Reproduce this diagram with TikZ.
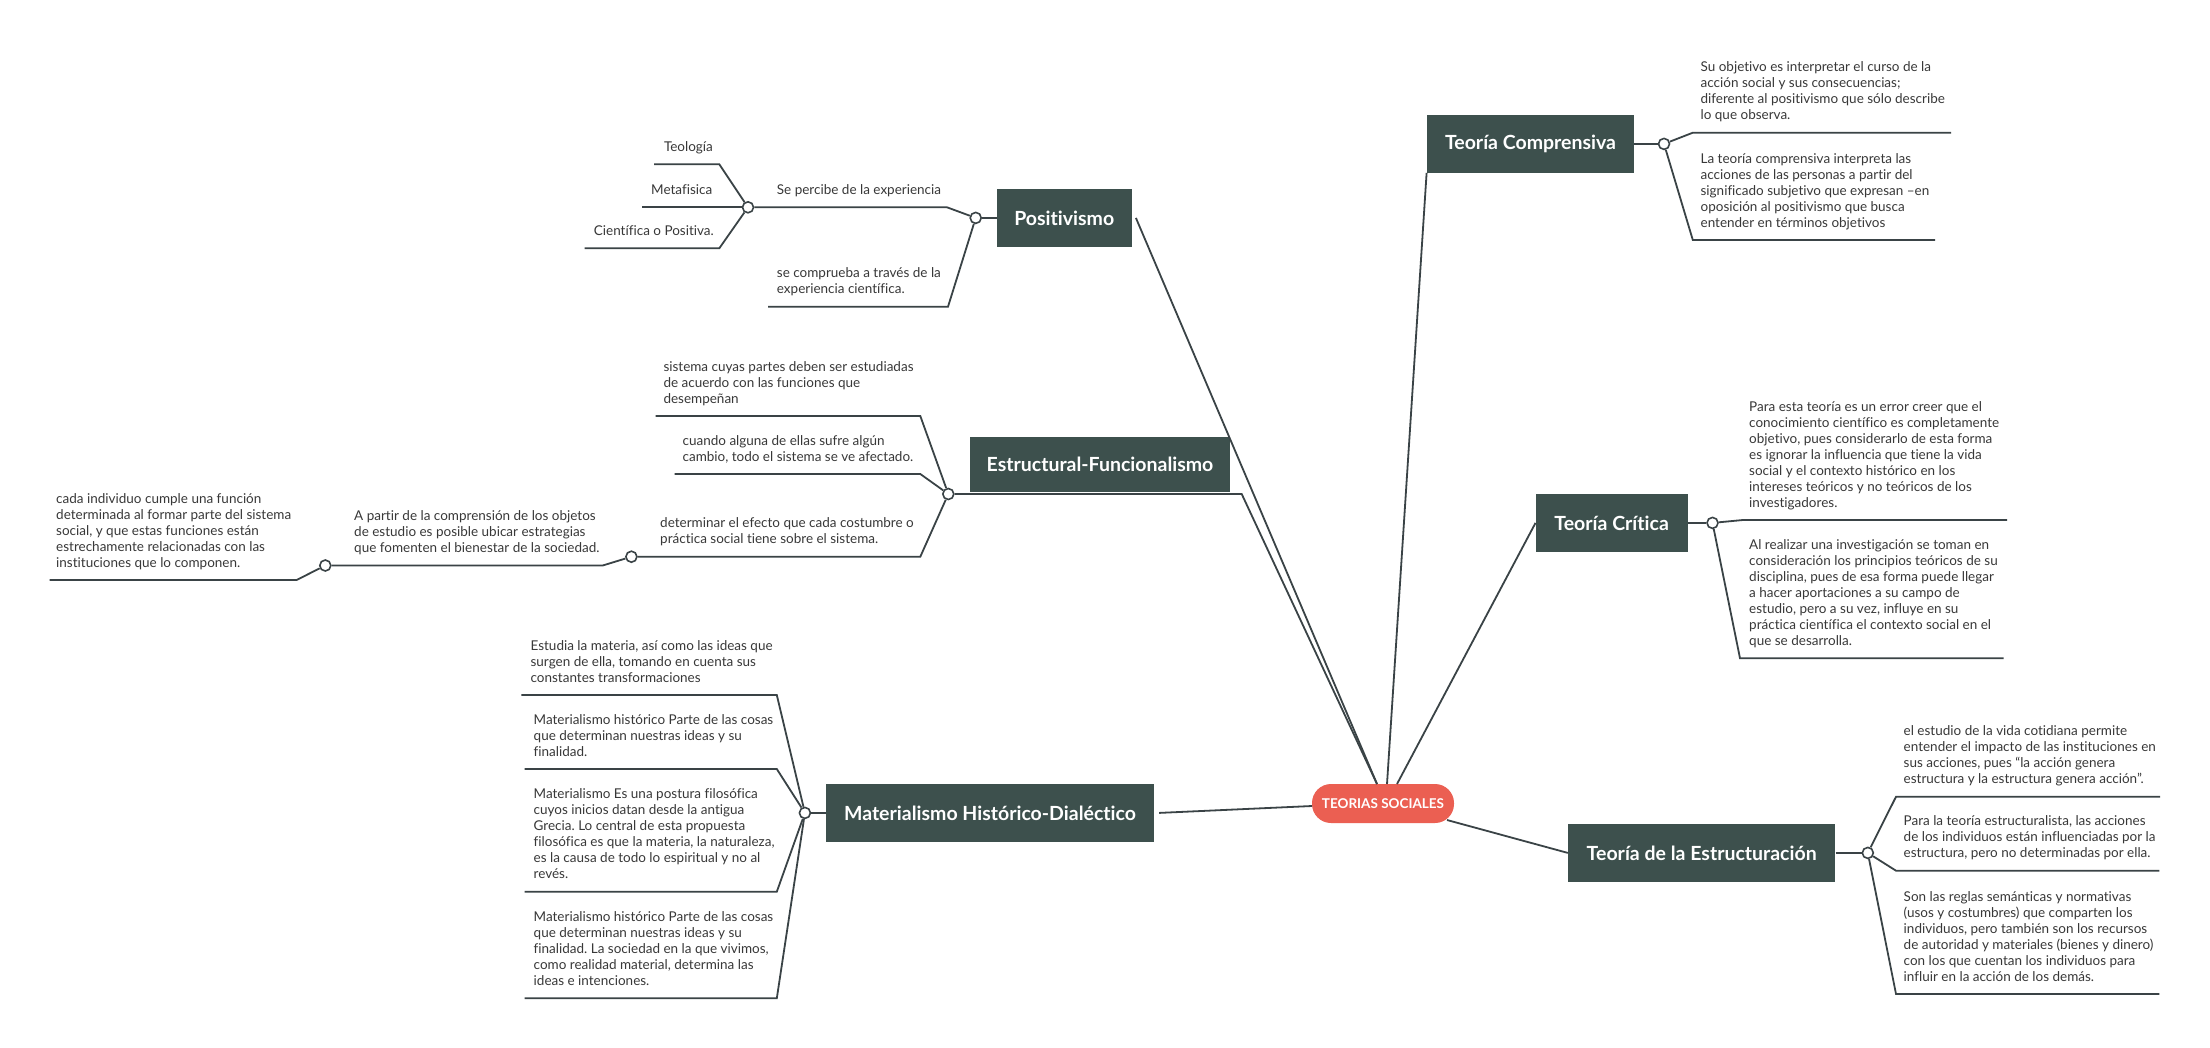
\documentclass[tikz,border=0pt]{standalone}
\usepackage{fontspec}
\setmainfont{Lato}[Ligatures=NoCommon]
\frenchspacing
\definecolor{boxcol}{HTML}{3D504D}
\definecolor{linecol}{HTML}{3A4346}
\definecolor{rootcol}{HTML}{EB5F52}
\definecolor{textcol}{HTML}{383838}
\newcommand\blk[5]{\node[txt] (#1) at (#2,{#3-26-16*(#4-1)}) {\rule{0pt}{13pt}#5};}
\begin{document}
\begin{tikzpicture}[x=1pt,y=-1pt,
  conn/.style={draw=linecol, line width=1.8pt},
  topic/.style={fill=boxcol, text=white, font=\fontsize{19.5}{22}\selectfont\bfseries, inner sep=0, minimum height=57.7pt},
  central/.style={fill=rootcol, text=white, rounded corners=19pt, minimum width=142pt, minimum height=39pt, inner sep=0, font=\fontsize{13.5}{16}\selectfont\bfseries},
  dot/.style={circle, draw=linecol, fill=white, line width=1.6pt, minimum size=11pt, inner sep=0},
  txt/.style={anchor=north west, inner sep=0, align=left, text=textcol, font=\fontsize{13.5}{16}\selectfont}]
\useasboundingbox[fill=white] (0,0) rectangle (2210,1047);

% root and main topics
\node[central] (root) at (1383,803.5) {TEORIAS SOCIALES};
\node[topic, minimum width=135pt] (pos) at (1064.2,217.9) {Positivismo};
\node[topic, minimum width=260pt, minimum height=55pt] (est) at (1100,464.2) {Estructural-Funcionalismo};
\node[topic, minimum width=328pt] (mat) at (990,812.9) {Materialismo Histórico-Dialéctico};
\node[topic, minimum width=207.4pt] (comp) at (1530.5,143.9) {Teoría Comprensiva};
\node[topic, minimum width=151.8pt] (crit) at (1611.6,522.9) {Teoría Crítica};
\node[topic, minimum width=267.4pt] (estr) at (1701.7,852.9) {Teoría de la Estructuración};

% dots
\node[dot] (dPos) at (975.7,217.9) {};
\node[dot] (dPerc) at (748,207.3) {};
\node[dot] (dEst) at (948.3,494) {};
\node[dot] (dDet) at (631.4,556.7) {};
\node[dot] (dApar) at (325.3,565.5) {};
\node[dot] (dMat) at (804.9,812.9) {};
\node[dot] (dComp) at (1664,143.9) {};
\node[dot] (dCrit) at (1712.5,522.9) {};
\node[dot] (dEstr) at (1867.8,852.9) {};

% coordinates on the root
\coordinate (rT1) at (1377,784);
\coordinate (rT2) at (1387,784);
\coordinate (rT3) at (1397,784);
\coordinate (rL) at (1312,806);
\coordinate (rR) at (1447,820);

% main connectors
\coordinate (uEstE) at (1241.7,494);
\draw[conn] ([xshift=4pt]pos.east) -- (rT1);
\draw[conn] (dEst) -- (uEstE) -- (rT1);
\draw[conn] (comp.south west) -- (rT2);
\draw[conn] (crit.west) -- (rT3);
\draw[conn] ([xshift=5pt]mat.east) -- (rL);
\draw[conn] (rR) -- (estr.west);

% Positivismo branch
\coordinate (uPercA) at (947,207.3);
\coordinate (uCompA) at (948,306.7); \coordinate (uCompB) at (768,306.7);
\coordinate (uTeoA) at (719.3,164.3); \coordinate (uTeoB) at (654,164.3);
\coordinate (uMetB) at (642,207.3);
\coordinate (uCieA) at (719.3,248.3); \coordinate (uCieB) at (584.5,248.3);
\draw[conn] (pos) -- (dPos);
\draw[conn] (dPos) -- (uPercA) -- (dPerc);
\draw[conn] (dPos) -- (uCompA) -- (uCompB);
\draw[conn] (dPerc) -- (uTeoA) -- (uTeoB);
\draw[conn] (dPerc) -- (uMetB);
\draw[conn] (dPerc) -- (uCieA) -- (uCieB);
\blk{tTeo}{663.8}{164.3}{1}{Teología}
\blk{tMet}{651}{207.3}{1}{Metafisica}
\blk{tCie}{593.7}{248.3}{1}{Científica o Positiva.}
\blk{tPerc}{776.7}{207.3}{1}{Se percibe de la experiencia}
\blk{tComprueba}{776.7}{306.7}{2}{se comprueba a través de la\\experiencia científica.}

% Estructural-Funcionalismo branch
\coordinate (uSisA) at (920.3,416); \coordinate (uSisB) at (655.6,416);
\coordinate (uCuaA) at (920.3,474); \coordinate (uCuaB) at (674.7,474);
\coordinate (uDetA) at (920.3,556.7);
\coordinate (uAparA) at (602.7,565.5);
\coordinate (uCadA) at (296.6,580); \coordinate (uCadB) at (49.7,580);
\draw[conn] (dEst) -- (uSisA) -- (uSisB);
\draw[conn] (dEst) -- (uCuaA) -- (uCuaB);
\draw[conn] (dEst) -- (uDetA) -- (dDet);
\draw[conn] (dDet) -- (uAparA) -- (dApar);
\draw[conn] (dApar) -- (uCadA) -- (uCadB);
\blk{tSis}{663.3}{416}{3}{sistema cuyas partes deben ser estudiadas\\de acuerdo con las funciones que\\desempeñan}
\blk{tCua}{682.4}{474}{2}{cuando alguna de ellas sufre algún\\cambio, todo el sistema se ve afectado.}
\blk{tDet}{660}{556.7}{2}{determinar el efecto que cada costumbre o\\práctica social tiene sobre el sistema.}
\blk{tApar}{354}{565.5}{3}{A partir de la comprensión de los objetos\\de estudio es posible ubicar estrategias\\que fomenten el bienestar de la sociedad.}
\blk{tCad}{56}{580}{5}{cada individuo cumple una función\\determinada al formar parte del sistema\\social, y que estas funciones están\\estrechamente relacionadas con las\\instituciones que lo componen.}

% Materialismo branch
\coordinate (uM1A) at (776.8,695); \coordinate (uM1B) at (521.4,695);
\coordinate (uM2A) at (776.8,769); \coordinate (uM2B) at (524.6,769);
\coordinate (uM3A) at (776.8,891.7); \coordinate (uM3B) at (524.6,891.7);
\coordinate (uM4A) at (776.8,998.3); \coordinate (uM4B) at (524.6,998.3);
\draw[conn] (mat) -- (dMat);
\draw[conn] (dMat) -- (uM1A) -- (uM1B);
\draw[conn] (dMat) -- (uM2A) -- (uM2B);
\draw[conn] (dMat) -- (uM3A) -- (uM3B);
\draw[conn] (dMat) -- (uM4A) -- (uM4B);
\blk{tM1}{530.4}{695}{3}{Estudia la materia, así como las ideas que\\surgen de ella, tomando en cuenta sus\\constantes transformaciones}
\blk{tM2}{533.5}{769}{3}{Materialismo histórico Parte de las cosas\\que determinan nuestras ideas y su\\finalidad.}
\blk{tM3}{533.5}{891.7}{6}{Materialismo Es una postura filosófica\\cuyos inicios datan desde la antigua\\Grecia. Lo central de esta propuesta\\filosófica es que la materia, la naturaleza,\\es la causa de todo lo espiritual y no al\\revés.}
\blk{tM4}{533.5}{998.3}{5}{Materialismo histórico Parte de las cosas\\que determinan nuestras ideas y su\\finalidad. La sociedad en la que vivimos,\\como realidad material, determina las\\ideas e intenciones.}

% Teoría Comprensiva branch
\coordinate (uC1A) at (1692.8,132.7); \coordinate (uC1B) at (1951,132.7);
\coordinate (uC2A) at (1692.8,240); \coordinate (uC2B) at (1935,240);
\draw[conn] (comp) -- (dComp);
\draw[conn] (dComp) -- (uC1A) -- (uC1B);
\draw[conn] (dComp) -- (uC2A) -- (uC2B);
\blk{tC1}{1700.4}{132.7}{4}{Su objetivo es interpretar el curso de la\\acción social y sus consecuencias;\\diferente al positivismo que sólo describe\\lo que observa.}
\blk{tC2}{1700.4}{240}{5}{La teoría comprensiva interpreta las\\acciones de las personas a partir del\\significado subjetivo que expresan –en\\oposición al positivismo que busca\\entender en términos objetivos}

% Teoría Crítica branch
\coordinate (uK1A) at (1742.9,520); \coordinate (uK1B) at (2007,520);
\coordinate (uK2A) at (1740,658.3); \coordinate (uK2B) at (2003.6,658.3);
\draw[conn] (crit) -- (dCrit);
\draw[conn] (dCrit) -- (uK1A) -- (uK1B);
\draw[conn] (dCrit) -- (uK2A) -- (uK2B);
\blk{tK1}{1749}{520}{7}{Para esta teoría es un error creer que el\\conocimiento científico es completamente\\objetivo, pues considerarlo de esta forma\\es ignorar la influencia que tiene la vida\\social y el contexto histórico en los\\intereses teóricos y no teóricos de los\\investigadores.}
\blk{tK2}{1749}{658.3}{7}{Al realizar una investigación se toman en\\consideración los principios teóricos de su\\disciplina, pues de esa forma puede llegar\\a hacer aportaciones a su campo de\\estudio, pero a su vez, influye en su\\práctica científica el contexto social en el\\que se desarrolla.}

% Teoría de la Estructuración branch
\coordinate (uE1A) at (1896,796.7); \coordinate (uE1B) at (2160,796.7);
\coordinate (uE2A) at (1896,870.7); \coordinate (uE2B) at (2159.4,870.7);
\coordinate (uE3A) at (1896,994); \coordinate (uE3B) at (2159.4,994);
\draw[conn] (estr) -- (dEstr);
\draw[conn] (dEstr) -- (uE1A) -- (uE1B);
\draw[conn] (dEstr) -- (uE2A) -- (uE2B);
\draw[conn] (dEstr) -- (uE3A) -- (uE3B);
\blk{tE1}{1903.5}{796.7}{4}{el estudio de la vida cotidiana permite\\entender el impacto de las instituciones en\\sus acciones, pues “la acción genera\\estructura y la estructura genera acción”.}
\blk{tE2}{1903.5}{870.7}{3}{Para la teoría estructuralista, las acciones\\de los individuos están influenciadas por la\\estructura, pero no determinadas por ella.}
\blk{tE3}{1903.5}{994}{6}{Son las reglas semánticas y normativas\\(usos y costumbres) que comparten los\\individuos, pero también son los recursos\\de autoridad y materiales (bienes y dinero)\\con los que cuentan los individuos para\\influir en la acción de los demás.}
\end{tikzpicture}
\end{document}
